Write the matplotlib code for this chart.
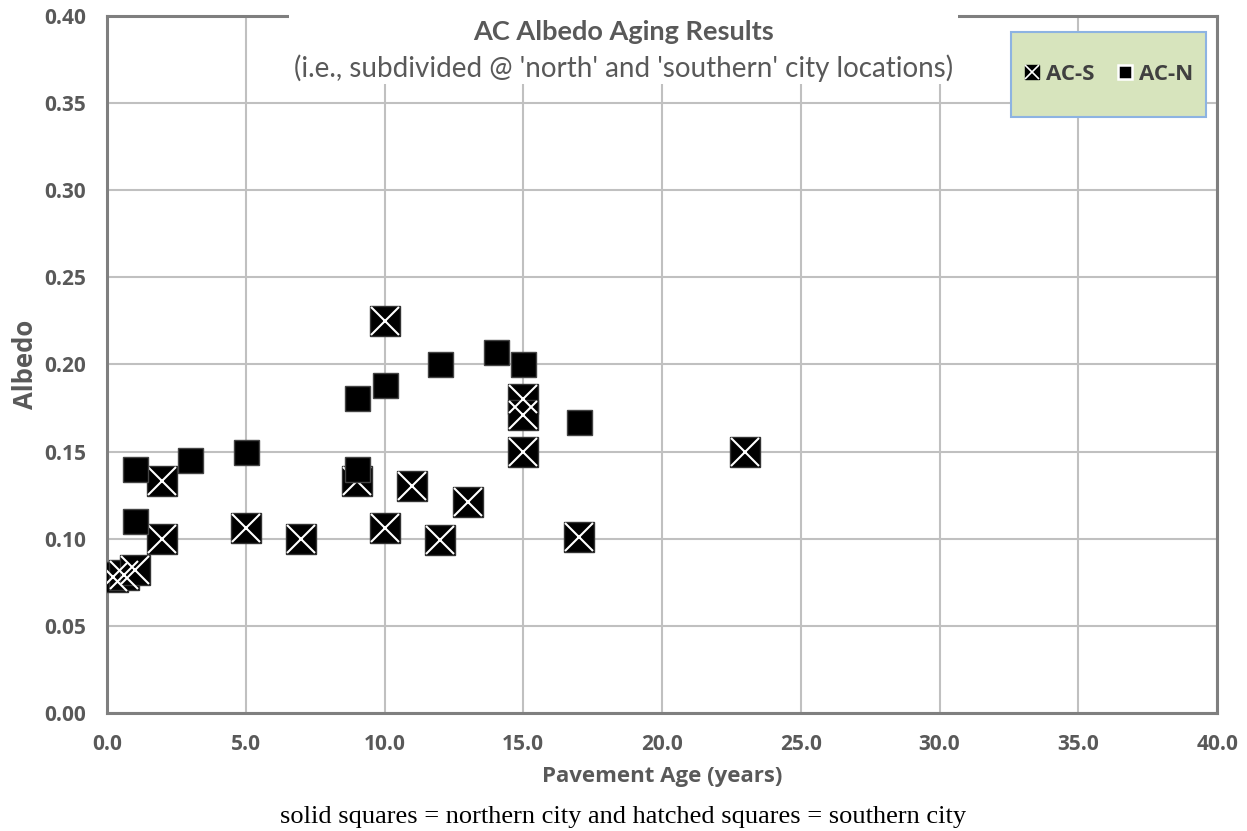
import matplotlib
matplotlib.use("Agg")
import matplotlib.pyplot as plt
from matplotlib.lines import Line2D
from matplotlib.patches import Rectangle
from matplotlib.legend_handler import HandlerTuple
import numpy as np

# AC-S (southern city) measurements: pavement age in years, albedo
acs_age = [0.2, 0.6, 1.0, 2, 2, 5, 7, 9, 10, 10, 11, 12, 13, 15, 15, 15, 17, 23]
acs_albedo = [0.078, 0.079, 0.082, 0.133, 0.100, 0.106, 0.100, 0.133, 0.225,
              0.106, 0.130, 0.099, 0.121, 0.180, 0.171, 0.150, 0.101, 0.150]

# AC-N (northern city) measurements
acn_age = [1, 1, 3, 5, 9, 9, 10, 12, 14, 15, 17]
acn_albedo = [0.140, 0.110, 0.145, 0.150, 0.181, 0.140, 0.188, 0.200, 0.207,
              0.200, 0.167]

x_ticks = np.arange(0, 40.1, 5)
y_ticks = np.arange(0, 0.401, 0.05)

title = "AC Albedo Aging Results"
subtitle = "(i.e., subdivided @ 'north' and 'southern' city locations)"
caption = "solid squares = northern city and hatched squares = southern city"

GRAY_TXT = "#595959"
GRID = "#c0c0c0"
FRAME = "#7f7f7f"

fig = plt.figure(figsize=(12.47, 8.31), dpi=100)
ax = fig.add_axes([0.0858, 0.142, 0.8902, 0.8388])

ax.set_xlim(0, 40)
ax.set_ylim(0, 0.40)
ax.set_xticks(x_ticks)
ax.set_yticks(y_ticks)
ax.set_xticklabels([f"{v:.1f}" for v in x_ticks])
ax.set_yticklabels([f"{v:.2f}" for v in y_ticks])
ax.grid(True, color=GRID, linewidth=1.5, zorder=0)
ax.set_axisbelow(True)
ax.tick_params(length=0, labelsize=15, colors=GRAY_TXT)
ax.tick_params(axis="y", pad=15)
ax.tick_params(axis="x", pad=15)
for lab in ax.get_xticklabels() + ax.get_yticklabels():
    lab.set_fontfamily("Open Sans")
    lab.set_fontweight("bold")
for sp in ax.spines.values():
    sp.set_color(FRAME)
    sp.set_linewidth(2.2)

# southern city: black square with a white cross
ax.plot(acs_age, acs_albedo, ls="none", marker="s", ms=21.5, mfc="black",
        mec="#333333", mew=1.0, zorder=3)
ax.plot(acs_age, acs_albedo, ls="none", marker="x", ms=20.5, mec="white",
        mew=1.5, zorder=3.1)
# northern city: solid black square drawn on top
ax.plot(acn_age, acn_albedo, ls="none", marker="s", ms=18, mfc="black",
        mec="#444444", mew=1.0, zorder=3.2)

ax.set_xlabel("Pavement Age (years)", fontsize=16, fontweight="bold",
              color=GRAY_TXT, family="Open Sans", labelpad=8)
ax.set_ylabel("Albedo", fontsize=18.5, fontweight="bold", color=GRAY_TXT,
              family="Open Sans", labelpad=4)

# white band behind the title, breaking the top frame line
ax.add_patch(Rectangle((6.56, 0.361), 24.1, 0.06, facecolor="white",
                       edgecolor="none", clip_on=False, zorder=4))
ax.text(0.5 * (6.56 + 30.66), 0.391, title, ha="center", va="center",
        fontsize=19.5, fontweight="bold", color=GRAY_TXT, family="Lato",
        zorder=5)
ax.text(0.5 * (6.56 + 30.66), 0.370, subtitle, ha="center", va="center",
        fontsize=20, color=GRAY_TXT, family="Lato", zorder=5)

# legend box
lx0, ly0, lw, lh = 0.8144, 0.855, 0.1756, 0.122
ax.add_patch(Rectangle((lx0, ly0), lw, lh, transform=ax.transAxes,
                       facecolor="#d7e4bd", edgecolor="#8db3e2", lw=1.5,
                       zorder=6))
h_s = (Line2D([], [], ls="none", marker="s", ms=10.5, mfc="black", mec="black"),
       Line2D([], [], ls="none", marker="x", ms=10, mec="white", mew=1.2))
h_n = Line2D([], [], ls="none", marker="s", ms=10.5, mfc="black", mec="white",
             mew=1.8)
leg = ax.legend([h_s, h_n], ["AC-S", "AC-N"], ncol=2, frameon=False,
                loc="center", bbox_to_anchor=(lx0 + lw / 2, ly0 + lh / 2),
                handler_map={tuple: HandlerTuple(ndivide=1)},
                handlelength=0.7, handletextpad=0.3, columnspacing=1.0,
                prop={"family": "Open Sans", "weight": "bold", "size": 16})
leg.set_zorder(7)
for t in leg.get_texts():
    t.set_color("#404040")

fig.text(0.5, 0.004, caption, ha="center", va="bottom", fontsize=19,
         family="Liberation Serif", color="black")

fig.savefig("out.png", dpi=100)
